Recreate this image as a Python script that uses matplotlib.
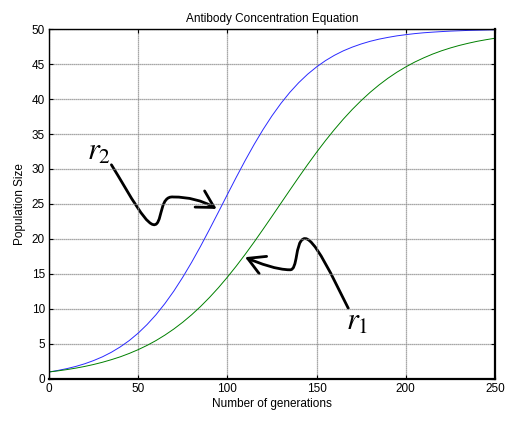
import matplotlib
matplotlib.use("Agg")
import matplotlib.pyplot as plt
from matplotlib.path import Path
from matplotlib.patches import FancyArrowPatch

plt.rcParams['font.family'] = ['Liberation Sans', 'DejaVu Sans']
plt.rcParams['mathtext.fontset'] = 'stix'

# generations (every 5)
gens = list(range(0, 251, 5))

# r2 curve (blue)
pop_r2 = [1.0, 1.22, 1.48, 1.79, 2.17, 2.63, 3.17, 3.82, 4.59, 5.49,
          6.55, 7.78, 9.18, 10.78, 12.56, 14.54, 16.68, 18.97, 21.38, 23.85,
          26.35, 28.82, 31.22, 33.50, 35.63, 37.59, 39.36, 40.94, 42.33, 43.54,
          44.58, 45.48, 46.24, 46.88, 47.41, 47.86, 48.24, 48.55, 48.80, 49.02,
          49.19, 49.34, 49.46, 49.55, 49.63, 49.70, 49.75, 49.80, 49.83, 49.86,
          49.89]

# r1 curve (green)
pop_r1 = [1.0, 1.16, 1.34, 1.55, 1.79, 2.07, 2.39, 2.76, 3.17, 3.65,
          4.19, 4.80, 5.49, 6.27, 7.14, 8.11, 9.18, 10.36, 11.65, 13.04,
          14.54, 16.13, 17.81, 19.56, 21.38, 23.23, 25.10, 26.97, 28.82, 30.63,
          32.38, 34.05, 35.63, 37.12, 38.50, 39.77, 40.94, 42.00, 42.96, 43.82,
          44.58, 45.27, 45.87, 46.41, 46.88, 47.29, 47.65, 47.96, 48.24, 48.47,
          48.68]

xticks = [0, 50, 100, 150, 200, 250]
yticks = [0, 5, 10, 15, 20, 25, 30, 35, 40, 45, 50]

fig = plt.figure(figsize=(5.05, 4.21), dpi=100)
ax = fig.add_axes([0.097, 0.0998, 0.883, 0.8313])

ax.plot(gens, pop_r2, color='#2a2aff', lw=0.7)
ax.plot(gens, pop_r1, color='#008000', lw=0.7)

ax.set_xlim(0, 250)
ax.set_ylim(0, 50)
ax.set_xticks(xticks)
ax.set_yticks(yticks)
ax.tick_params(direction='in', top=True, right=True, length=3, labelsize=8.5, pad=3)
ax.grid(True, linestyle=(0, (1, 0.6)), color='#8a8a8a', lw=0.9)
for s in ax.spines.values():
    s.set_linewidth(1.0)
ax.spines['bottom'].set_linewidth(1.6)
ax.spines['right'].set_linewidth(1.6)

ax.set_title('Antibody Concentration Equation', fontsize=8.5, pad=5)
ax.set_xlabel('Number of generations', fontsize=8.5, labelpad=2)
ax.set_ylabel('Population Size', fontsize=8.5, labelpad=4)

# hand drawn arrows
verts2 = [(35.0, 30.6), (45, 26.5), (56, 21.0), (60.4, 22.2),
          (63.5, 23.0), (62.5, 26.2), (69.7, 26.0),
          (78, 26.0), (86, 25.5), (94.0, 24.3)]
codes = [Path.MOVETO] + [Path.CURVE4] * 9
arr2 = FancyArrowPatch(path=Path(verts2, codes),
                       arrowstyle='->,head_length=0.8,head_width=0.45',
                       mutation_scale=15, lw=2, color='black')
ax.add_patch(arr2)

verts1 = [(167.8, 10.1), (160, 14.0), (148, 20.8), (142.6, 20.0),
          (138, 19.5), (139.5, 15.5), (135.1, 15.6),
          (128, 15.6), (118, 16.5), (109.9, 17.4)]
arr1 = FancyArrowPatch(path=Path(verts1, codes),
                       arrowstyle='->,head_length=0.8,head_width=0.45',
                       mutation_scale=15, lw=2, color='black')
ax.add_patch(arr1)

ax.text(21.5, 31.3, r'$r_2$', fontsize=22)
ax.text(166.5, 7.0, r'$r_1$', fontsize=22)

fig.savefig('out.png', dpi=100)
